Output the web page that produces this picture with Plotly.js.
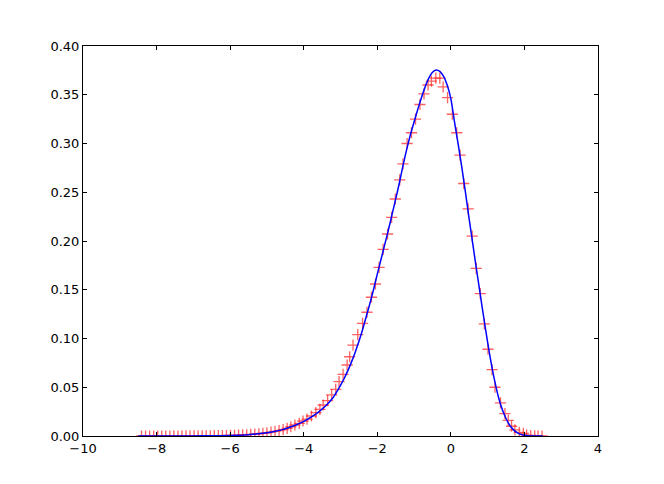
<!DOCTYPE html>
<html>
<head>
<meta charset="utf-8">
<script src="https://cdn.plot.ly/plotly-3.0.1.min.js"></script>
<style>html,body{margin:0;padding:0;background:#fff;}#chart{width:664px;height:484px;}</style>
</head>
<body>
<div id="chart"></div>
<script>
// Histogram sample points (red crosses)
var sampleX = [-8.41,-8.30,-8.19,-8.08,-7.97,-7.86,-7.75,-7.64,-7.53,-7.42,-7.31,-7.20,-7.09,-6.98,-6.87,-6.76,-6.65,-6.54,-6.43,-6.32,-6.21,-6.10,-5.99,-5.88,-5.77,-5.66,-5.55,-5.44,-5.33,-5.22,-5.11,-5.00,-4.89,-4.78,-4.67,-4.56,-4.45,
  -4.35,-4.24,-4.12,-4.02,-3.91,-3.79,-3.67,-3.56,-3.47,-3.35,-3.24,-3.13,-3.04,-2.93,-2.82,-2.75,-2.66,-2.53,-2.40,-2.28,-2.16,-2.05,-1.95,-1.84,-1.72,-1.61,-1.51,-1.39,
  -1.30,-1.19,-1.07,-0.96,-0.84,-0.73,-0.62,-0.53,-0.41,-0.30,-0.21,-0.09,0.04,0.16,0.25,0.35,0.47,0.58,0.69,0.80,0.91,1.01,1.12,1.20,1.35,1.47,1.56,1.65,1.74,1.86,1.97,2.06,2.17,2.28,2.37,2.48];
var sampleY = [0,0,0,0,0,0,0,0,0.0001,0,0.0001,0.0001,0.0001,0.0001,0.0001,0.0002,0.0002,0.0002,0.0003,0.0004,0.0004,0.0005,0.0006,0.0007,0.0009,0.0011,0.0013,0.0016,0.0019,0.0023,0.0028,0.0033,0.0040,0.0047,0.0056,0.0066,0.0079,
  0.0095,0.0113,0.0130,0.0154,0.0174,0.0205,0.0239,0.0274,0.0318,0.0362,0.0421,0.0479,0.0557,0.0632,0.0728,0.0813,0.0933,0.104,0.1156,0.1269,0.1423,0.1559,0.1730,0.1915,0.2072,0.2243,0.2431,0.2626,
  0.279,0.300,0.311,0.325,0.340,0.351,0.360,0.364,0.367,0.367,0.358,0.347,0.330,0.311,0.288,0.259,0.233,0.205,0.172,0.146,0.115,0.089,0.068,0.050,0.034,0.023,0.016,0.010,0.0062,0.0038,0.0027,0.0010,0.0005,0.0002,0.0001,0];

// Density curve (blue line)
var curveX = [-8.5,-7.0,-6.5,-6.0,-5.5,-5.0,-4.8,-4.6,-4.4,-4.2,-4.0,-3.8,-3.6,-3.4,-3.2,-3.1,-3.0,-2.9,-2.8,-2.7,-2.6,-2.5,-2.4,-2.3,-2.2,-2.1,-2.0,-1.9,-1.8,-1.7,-1.6,-1.5,-1.4,-1.3,-1.2,-1.1,-1.0,-0.9,-0.8,-0.7,-0.6,-0.5,-0.4,-0.3,-0.2,-0.1,0.0,0.1,0.2,0.3,0.4,0.5,0.6,0.7,0.8,0.9,1.0,1.1,1.2,1.3,1.4,1.5,1.6,1.7,1.8,1.9,2.0,2.2,2.5];
var curveY = [0,0.0001,0.0002,0.0005,0.0013,0.0033,0.0046,0.0063,0.0087,0.0115,0.0150,0.0193,0.0245,0.0310,0.0395,0.0455,0.0520,0.0590,0.0670,0.0760,0.0860,0.0970,0.1090,0.1225,0.1360,0.1505,0.1660,0.1810,0.1960,0.2110,0.2270,0.2430,0.2595,0.2775,0.2940,0.3090,0.3220,0.3350,0.3470,0.3580,0.3670,0.3730,0.3755,0.3740,0.3690,0.3600,0.3460,0.3220,0.2990,0.2750,0.2490,0.2220,0.1960,0.1700,0.1450,0.1200,0.0960,0.0740,0.0550,0.0390,0.0270,0.0180,0.0110,0.0065,0.0035,0.0017,0.0008,0.0001,0];

var xTicks = [-10,-8,-6,-4,-2,0,2,4];
var yTicks = [0,0.05,0.10,0.15,0.20,0.25,0.30,0.35,0.40];

var traces = [
  {x: sampleX, y: sampleY, type: 'scatter', mode: 'markers', cliponaxis: true,
   marker: {symbol: 'cross-thin', size: 8, color: 'rgba(255,30,30,0.7)', line: {width: 1.3, color: 'rgba(255,30,30,0.7)'}}},
  {x: curveX, y: curveY, type: 'scatter', mode: 'lines', line: {color: '#0000ff', width: 1.5, shape: 'spline', smoothing: 0.6}}
];

var axisCommon = {
  showgrid: false, zeroline: false, showline: true, linecolor: '#000', linewidth: 1,
  mirror: 'ticks', ticks: 'inside', ticklen: 4, tickwidth: 1, tickcolor: '#000',
  tickfont: {family: 'DejaVu Sans, sans-serif', size: 13, color: '#000'}
};

var layout = {
  width: 664, height: 484,
  margin: {l: 83, r: 66, t: 46, b: 48},
  paper_bgcolor: '#fff', plot_bgcolor: '#fff',
  showlegend: false,
  xaxis: Object.assign({}, axisCommon, {range: [-10, 4], tickmode: 'array', tickvals: xTicks, ticktext: xTicks.map(function(v){return v<0 ? '\u2212'+Math.abs(v) : String(v);})}),
  yaxis: Object.assign({}, axisCommon, {range: [0, 0.40], tickmode: 'array', tickvals: yTicks, ticktext: yTicks.map(function(v){return v.toFixed(2);})})
};

Plotly.newPlot('chart', traces, layout, {staticPlot: true, displayModeBar: false});
</script>
</body>
</html>
